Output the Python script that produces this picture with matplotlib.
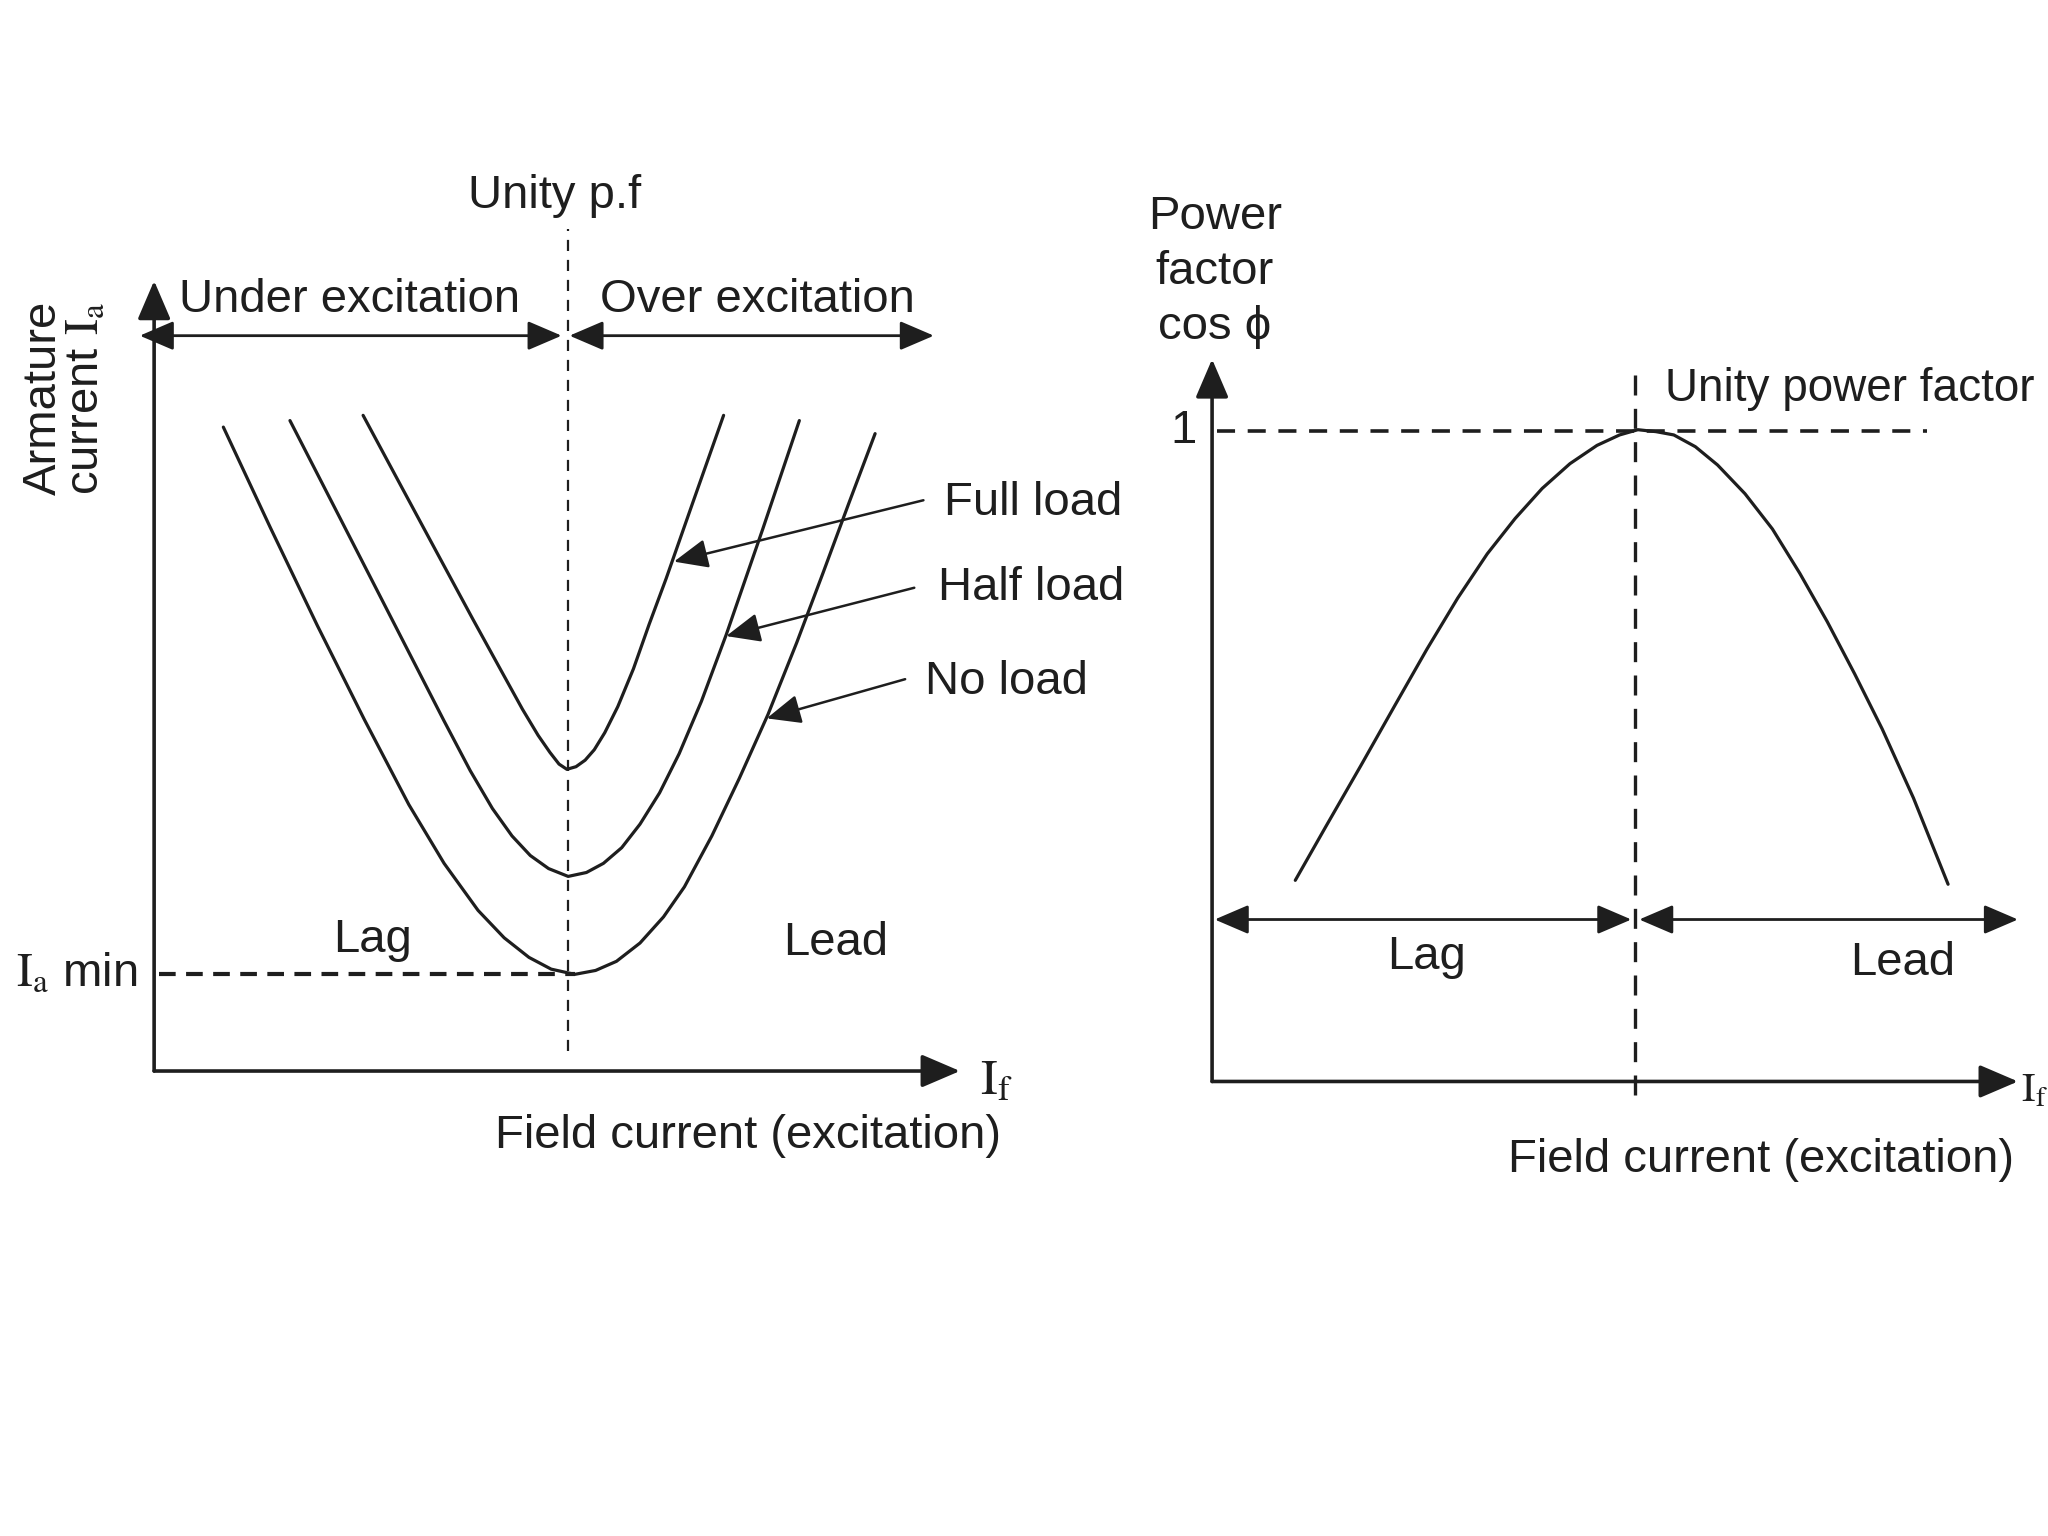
import matplotlib.pyplot as plt

plt.rcParams['font.family'] = ['Liberation Sans', 'DejaVu Sans']
plt.rcParams['mathtext.fontset'] = 'stix'

INK = '#1e1e1e'
FS = 34

# V-curves: field current vs armature current (arbitrary units)
full_x = [16.0, 18.9, 21.7, 24.4, 26.6, 28.2, 29.4, 30.3, 31.0, 31.6, 32.3, 33.0, 33.7, 34.5, 35.5,
          36.7, 37.9, 39.2, 41.2, 43.6]
full_y = [50.2, 44.8, 39.6, 34.6, 30.6, 27.7, 25.7, 24.4, 23.5, 23.1, 23.3, 23.8, 24.6, 25.9, 27.9,
          30.8, 34.2, 37.7, 43.4, 50.2]

half_x = [10.4, 14.2, 18.2, 22.2, 24.2, 25.9, 27.4, 28.8, 30.2, 31.7, 33.1, 34.4, 35.8, 37.2, 38.7,
          40.2, 41.9, 43.8, 46.6, 49.4]
half_y = [49.8, 42.4, 34.6, 26.8, 23.0, 20.1, 18.0, 16.5, 15.5, 14.9, 15.2, 15.9, 17.1, 18.9, 21.3,
          24.3, 28.3, 33.4, 41.5, 49.8]

noload_x = [5.3, 8.9, 12.5, 16.1, 19.5, 22.2, 24.8, 26.8, 28.7, 30.4, 32.2, 33.8, 35.4, 37.2, 39.0,
            40.6, 42.7, 44.8, 47.0, 49.2, 51.2, 53.2, 55.2]
noload_y = [49.3, 41.6, 34.1, 26.9, 20.4, 15.9, 12.3, 10.2, 8.7, 7.8, 7.4, 7.7, 8.4, 9.8, 11.8,
            14.1, 18.0, 22.4, 27.3, 32.8, 38.1, 43.5, 48.8]

curve_names = ['Full load', 'Half load', 'No load']
label_pos = [(60.5, 43.5), (60.0, 37.0), (59.0, 29.8)]
arrow_from = [(58.9, 43.7), (58.2, 37.0), (57.5, 30.0)]
arrow_to = [(39.8, 39.0), (43.8, 33.3), (46.9, 27.0)]

upf_left = 31.7
ia_min = 7.4

# power factor curve
pf_x = [6.37, 8.7, 11.4, 14.0, 16.45, 18.8, 21.07, 23.2, 25.27, 27.4, 29.47, 31.2, 32.6,
        34.0, 35.35, 37.0, 38.7, 40.8, 42.9, 45.0, 47.1, 49.2, 51.3, 53.7, 56.35]
pf_y = [15.4, 19.5, 24.2, 28.8, 33.1, 37.0, 40.4, 43.1, 45.4, 47.3, 48.7, 49.5, 49.9,
        49.75, 49.5, 48.6, 47.2, 45.0, 42.3, 38.9, 35.2, 31.2, 27.0, 21.7, 15.1]
upf_right = 32.4
pf_one = 49.8


def arrow(ax, start, end, style='-|>', lw=2.4, scale=34):
    ax.annotate('', xy=end, xytext=start, annotation_clip=False,
                arrowprops=dict(arrowstyle=style + ',head_length=0.7,head_width=0.3',
                                lw=lw, color=INK, shrinkA=0, shrinkB=0,
                                mutation_scale=scale))


fig = plt.figure(figsize=(20.48, 15.36), dpi=100)

# left panel: V-curves
ax1 = fig.add_axes([118 / 1568, 1 - 820 / 1176, 617 / 1568, 605 / 1176])
ax1.set_xlim(0, 61.7)
ax1.set_ylim(0, 60.5)
ax1.axis('off')

for xs, ys in [(full_x, full_y), (half_x, half_y), (noload_x, noload_y)]:
    ax1.plot(xs, ys, color=INK, lw=2.3, solid_joinstyle='round', solid_capstyle='round', clip_on=False)

arrow(ax1, (0, 0), (0, 60.5), lw=2.6)
arrow(ax1, (0, 0), (61.7, 0), lw=2.6)

ax1.plot([upf_left, upf_left], [1.5, 64.5], color=INK, lw=1.6, ls=(0, (5, 4)), clip_on=False)
ax1.plot([0.4, 32.2], [ia_min, ia_min], color=INK, lw=3.0, ls=(0, (4, 2.5)), clip_on=False)

arrow(ax1, (-1.1, 56.3), (31.2, 56.3), style='<|-|>', lw=2.0, scale=30)
arrow(ax1, (31.8, 56.3), (59.7, 56.3), style='<|-|>', lw=2.0, scale=30)

ax1.text(15.0, 59.0, 'Under excitation', fontsize=FS, color=INK, ha='center', va='center')
ax1.text(46.2, 59.0, 'Over excitation', fontsize=FS, color=INK, ha='center', va='center')
ax1.text(30.7, 67.0, 'Unity p.f', fontsize=FS, color=INK, ha='center', va='center')

for name, pos, a_from, a_to in zip(curve_names, label_pos, arrow_from, arrow_to):
    ax1.text(pos[0], pos[1], name, fontsize=FS, color=INK, ha='left', va='center')
    arrow(ax1, a_from, a_to, lw=1.8, scale=30)

ax1.text(16.7, 10.0, 'Lag', fontsize=FS, color=INK, ha='center', va='center')
ax1.text(52.2, 9.8, 'Lead', fontsize=FS, color=INK, ha='center', va='center')
ax1.text(-1.3, ia_min, r'$\mathrm{I}_\mathrm{a}$ min', fontsize=FS, color=INK, ha='right', va='center')
ax1.text(63.2, -0.8, r'$\mathrm{I}_\mathrm{f}$', fontsize=FS + 2, color=INK, ha='left', va='center')
ax1.text(45.5, -5.0, 'Field current (excitation)', fontsize=FS, color=INK, ha='center', va='center')
ax1.text(-6.8, 51.5, 'Armature\ncurrent $\\mathrm{I}_\\mathrm{a}$', fontsize=FS, color=INK, rotation=90,
         ha='center', va='center', multialignment='left', linespacing=0.95)

# right panel: power factor
ax2 = fig.add_axes([928 / 1568, 1 - 828 / 1176, 617 / 1568, 553 / 1176])
ax2.set_xlim(0, 61.7)
ax2.set_ylim(0, 55.3)
ax2.axis('off')

ax2.plot(pf_x, pf_y, color=INK, lw=2.3, solid_joinstyle='round', solid_capstyle='round', clip_on=False)
arrow(ax2, (0, 0), (0, 55.3), lw=2.6)
arrow(ax2, (0, 0), (61.7, 0), lw=2.6)

ax2.plot([0.4, 54.7], [pf_one, pf_one], color=INK, lw=2.6, ls=(0, (5, 3.5)), clip_on=False)
ax2.plot([upf_right, upf_right], [-1.0, 54.8], color=INK, lw=2.4, ls=(0, (6, 4)), clip_on=False)

arrow(ax2, (0.2, 12.4), (32.1, 12.4), style='<|-|>', lw=2.0, scale=30)
arrow(ax2, (32.7, 12.4), (61.7, 12.4), style='<|-|>', lw=2.0, scale=30)

ax2.text(-1.2, pf_one, '1', fontsize=FS, color=INK, ha='right', va='center')
ax2.text(34.7, 53.0, 'Unity power factor', fontsize=FS - 1, color=INK, ha='left', va='center')
ax2.text(0.2, 62.0, 'Power\nfactor\ncos ϕ', fontsize=FS, color=INK, ha='center', va='center',
         linespacing=1.32)
ax2.text(16.4, 9.5, 'Lag', fontsize=FS, color=INK, ha='center', va='center')
ax2.text(52.9, 9.1, 'Lead', fontsize=FS, color=INK, ha='center', va='center')
ax2.text(61.9, -0.7, r'$\mathrm{I}_\mathrm{f}$', fontsize=29, color=INK, ha='left', va='center')
ax2.text(42.0, -6.0, 'Field current (excitation)', fontsize=FS, color=INK, ha='center', va='center')

fig.savefig('out.png', dpi=100, facecolor='white')
